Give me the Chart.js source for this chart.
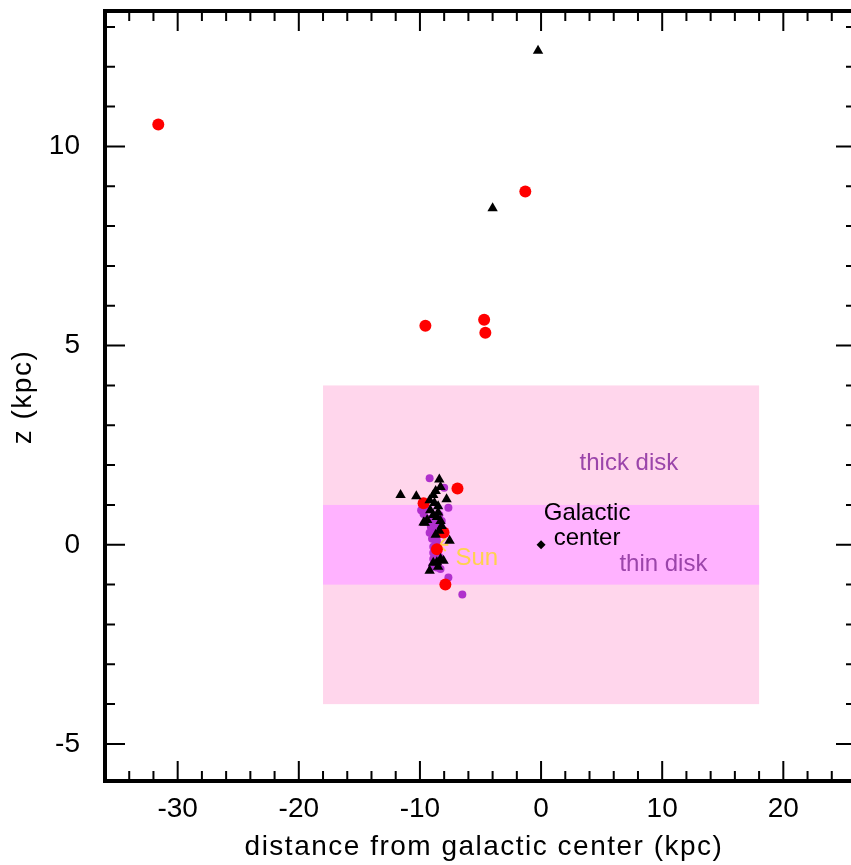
<!DOCTYPE html>
<html>
<head>
<meta charset="utf-8">
<script src="https://cdn.jsdelivr.net/npm/chart.js@4.4.0/dist/chart.umd.min.js"></script>
<style>
  html, body { margin: 0; padding: 0; background: #fff; overflow: hidden; }
</style>
</head>
<body>
<canvas id="chart" width="867" height="865"></canvas>
<script>
// --- data (kpc) ---
const redX = [-31.6, -1.3, -9.55, -4.7, -4.6, -6.9, -9.7, -8.05, -8.6, -7.9];
const redY = [10.55, 8.87, 5.5, 5.65, 5.32, 1.41, 1.04, 0.31, -0.11, -1.0];

const purpleX = [-9.2, -8.0, -9.9, -7.65, -9.7, -9.3, -9.0, -8.7, -8.9, -8.6, -8.8, -9.0, -8.5, -8.7, -8.9, -8.9, -8.6, -8.3, -8.8, -7.65, -6.5, -8.4, -9.5, -8.2,
                 -9.1, -8.8, -9.2, -8.6, -8.9, -8.7, -8.5, -9.0, -8.4];
const purpleY = [1.67, 1.43, 0.87, 0.93, 0.77, 0.65, 0.5, 0.55, 0.35, 0.3, 0.2, 0.15, 0.4, 0.05, -0.2, -0.36, -0.57, -0.61, -0.5, -0.82, -1.25, 0.75, 0.95, 0.6,
                 0.45, 0.6, 0.3, 0.1, -0.05, -0.25, -0.45, -0.55, -0.3];

const triX = [-0.25, -4.0, -8.4, -8.3, -11.6, -10.3, -8.9, -8.7, -9.2, -7.8, -9.15, -8.5, -8.5, -9.7, -8.3, -8.2, -8.6, -7.55, -8.3, -8.05, -8.6, -9.2, -9.6, -8.4,
              -8.8, -8.9, -9.4, -8.7, -8.9, -8.5];
const triY = [12.4, 8.45, 1.64, 1.45, 1.25, 1.22, 1.25, 1.35, 1.12, 1.14, 0.87, 0.97, 0.81, 0.56, 0.6, 0.47, 0.7, 0.1, -0.36, -0.4, -0.44, -0.65, 0.55, 0.35,
              1.05, 0.75, 0.62, 0.25, -0.45, -0.55];

const sunPos = [-8.4, 0];
const centerPos = [0, 0];

// disk bands: [xMin, xMax, yMin, yMax]
const thickDisk = [-18, 18, -4, 4];
const thinDisk = [-18, 18, -1, 1];

const xRange = [-36, 26];
const yRange = [-5.93, 13.4];

const FONT = '"Liberation Sans", Arial, Helvetica, sans-serif';

const toPoints = (xs, ys) => xs.map((x, i) => ({ x: x, y: ys[i] }));

// shaded bands under the points
const bandsPlugin = {
    id: 'bands',
    beforeDatasetsDraw(chart) {
        const { ctx, scales: { x, y } } = chart;
        const band = (b, color) => {
            const x0 = x.getPixelForValue(b[0]);
            const x1 = x.getPixelForValue(b[1]);
            const y0 = y.getPixelForValue(b[3]);
            const y1 = y.getPixelForValue(b[2]);
            ctx.fillStyle = color;
            ctx.fillRect(x0, y0, x1 - x0, y1 - y0);
        };
        ctx.save();
        band(thickDisk, '#ffd6ec');
        band(thinDisk, '#ffb2ff');

        ctx.font = '24px ' + FONT;
        ctx.textAlign = 'center';
        ctx.textBaseline = 'middle';
        ctx.fillStyle = '#9b45aa';
        ctx.fillText('thick disk', x.getPixelForValue(7.25), y.getPixelForValue(2.05));
        ctx.fillText('thin disk', x.getPixelForValue(10.1), y.getPixelForValue(-0.5));
        ctx.fillStyle = '#ffd24d';
        ctx.fillText('Sun', x.getPixelForValue(-5.3), y.getPixelForValue(-0.33));
        ctx.fillStyle = '#000';
        ctx.fillText('Galactic', x.getPixelForValue(3.8), y.getPixelForValue(0.78));
        ctx.fillText('center', x.getPixelForValue(3.8), y.getPixelForValue(0.17));
        ctx.restore();
    }
};

// heavy frame with inward ticks on all four sides, plus axis titles
const framePlugin = {
    id: 'frame',
    afterDraw(chart) {
        const { ctx, chartArea: a, scales: { x, y } } = chart;
        ctx.save();
        ctx.strokeStyle = '#000';
        ctx.lineWidth = 2;
        ctx.beginPath();
        for (let v = -36; v <= 26; v += 2) {
            const px = x.getPixelForValue(v);
            const len = v % 10 === 0 ? 20 : 10;
            ctx.moveTo(px, a.bottom); ctx.lineTo(px, a.bottom - len);
            ctx.moveTo(px, a.top); ctx.lineTo(px, a.top + len);
        }
        for (let v = -5; v <= 13; v += 1) {
            const py = y.getPixelForValue(v);
            const len = v % 5 === 0 ? 20 : 10;
            ctx.moveTo(a.left, py); ctx.lineTo(a.left + len, py);
            ctx.moveTo(a.right, py); ctx.lineTo(a.right - len, py);
        }
        ctx.stroke();

        ctx.lineWidth = 4;
        ctx.strokeRect(a.left, a.top, a.right - a.left, a.bottom - a.top);

        ctx.fillStyle = '#000';
        ctx.font = '28px ' + FONT;
        ctx.letterSpacing = '1.5px';
        ctx.textAlign = 'center';
        ctx.textBaseline = 'alphabetic';
        ctx.fillText('distance from galactic center (kpc)', 484, 855);
        ctx.translate(31, 397);
        ctx.rotate(-Math.PI / 2);
        ctx.fillText('z (kpc)', 0, 0);
        ctx.restore();
    }
};

new Chart(document.getElementById('chart'), {
    type: 'scatter',
    data: {
        datasets: [
            {
                label: 'triangles',
                data: toPoints(triX, triY),
                pointStyle: 'triangle',
                pointRadius: 6,
                backgroundColor: '#000',
                borderColor: '#000',
                borderWidth: 0
            },
            {
                label: 'red',
                data: toPoints(redX, redY),
                pointRadius: 6,
                backgroundColor: '#ff0000',
                borderColor: '#ff0000',
                borderWidth: 0
            },
            {
                label: 'purple',
                data: toPoints(purpleX, purpleY),
                pointRadius: 4,
                backgroundColor: '#b030cc',
                borderColor: '#b030cc',
                borderWidth: 0
            },
            {
                label: 'Sun',
                data: [{ x: sunPos[0], y: sunPos[1] }],
                pointStyle: 'star',
                pointRadius: 9,
                backgroundColor: '#ffd24d',
                borderColor: '#ffd24d',
                borderWidth: 2
            },
            {
                label: 'Galactic center',
                data: [{ x: centerPos[0], y: centerPos[1] }],
                pointStyle: 'rectRot',
                pointRadius: 4.5,
                backgroundColor: '#000',
                borderColor: '#000',
                borderWidth: 0
            }
        ]
    },
    options: {
        responsive: false,
        animation: false,
        devicePixelRatio: 1,
        layout: { padding: { top: 8, right: 1, left: 0, bottom: 0 } },
        plugins: { legend: { display: false }, tooltip: { enabled: false } },
        scales: {
            x: {
                type: 'linear',
                min: xRange[0],
                max: xRange[1],
                afterFit: (s) => { s.height = 84; s.paddingLeft = 0; s.paddingRight = 0; },
                grid: { display: false, drawTicks: false },
                border: { display: false },
                ticks: { stepSize: 10, includeBounds: false, padding: 11, color: '#000', font: { family: FONT, size: 28 } }
            },
            y: {
                type: 'linear',
                min: yRange[0],
                max: yRange[1],
                afterFit: (s) => { s.width = 105; s.paddingTop = 0; s.paddingBottom = 0; },
                grid: { display: false, drawTicks: false },
                border: { display: false },
                ticks: { stepSize: 5, includeBounds: false, padding: 25, color: '#000', font: { family: FONT, size: 28 } }
            }
        }
    },
    plugins: [bandsPlugin, framePlugin]
});
</script>
</body>
</html>
